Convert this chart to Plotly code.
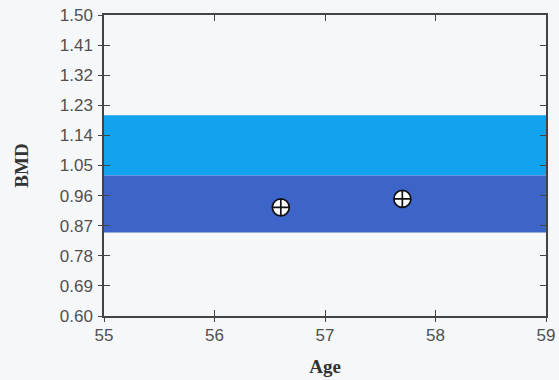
import plotly.graph_objects as go

# Reference bands for bone mineral density (g/cm^2)
band_names = ["upper", "normal"]
band_low = [1.02, 0.85]
band_high = [1.20, 1.02]
band_colors = ["#12a3ef", "#3d64c9"]

# Patient measurements
ages = [56.6, 57.7]
bmd = [0.925, 0.950]

y_ticks = [0.60, 0.69, 0.78, 0.87, 0.96, 1.05, 1.14, 1.23, 1.32, 1.41, 1.50]
x_ticks = [55, 56, 57, 58, 59]
x_min, x_max = 55, 59

fig = go.Figure()

for lo, hi, col in zip(band_low, band_high, band_colors):
    fig.add_trace(go.Scatter(
        x=[x_min, x_max, x_max, x_min, x_min],
        y=[lo, lo, hi, hi, lo],
        fill="toself", fillcolor=col, mode="lines",
        line=dict(width=0, color=col), hoverinfo="skip", showlegend=False,
    ))

fig.add_trace(go.Scatter(
    x=ages, y=bmd, mode="markers", showlegend=False,
    marker=dict(symbol="circle-cross", size=17, color="white",
                line=dict(color="#111111", width=1.7)),
))

# Secondary overlay axes give the ticks that cross the left and bottom lines
fig.add_trace(go.Scatter(x=[x_min], y=[0.6], xaxis="x2", yaxis="y2",
                         mode="markers", marker=dict(opacity=0),
                         showlegend=False, hoverinfo="skip"))

tick_font = dict(family="Liberation Sans, Arial, sans-serif", size=17, color="#505050")
title_font = dict(family="Liberation Serif, Times New Roman, serif", size=19, color="#333333")

fig.update_layout(
    width=559, height=380,
    margin=dict(l=104, r=13, t=15, b=64, autoexpand=False),
    paper_bgcolor="#f6f7f9", plot_bgcolor="#f6f7f9",
    xaxis=dict(range=[x_min, x_max], tickvals=x_ticks, ticks="inside",
               ticklen=6, tickcolor="#444444", tickwidth=1.3,
               showline=True, linecolor="#444444", linewidth=1.5,
               mirror="ticks", showgrid=False, zeroline=False,
               automargin=False, tickfont=tick_font, ticklabelstandoff=3,
               title=dict(text="<b>Age</b>", font=title_font, standoff=16)),
    yaxis=dict(range=[0.60, 1.50], tickvals=y_ticks,
               ticktext=[f"{v:.2f}" for v in y_ticks], ticks="inside",
               ticklen=6, tickcolor="#444444", tickwidth=1.3,
               showline=True, linecolor="#444444", linewidth=1.5,
               mirror="ticks", showgrid=False, zeroline=False,
               automargin=False, tickfont=tick_font, ticklabelstandoff=6,
               title=dict(text="<b>BMD</b>", font=title_font, standoff=26)),
    xaxis2=dict(range=[x_min, x_max], tickvals=x_ticks, ticks="outside",
                ticklen=5, tickcolor="#444444", tickwidth=1.3,
                showticklabels=False, overlaying="x", side="bottom",
                anchor="y2", showgrid=False, zeroline=False, automargin=False),
    yaxis2=dict(range=[0.60, 1.50], tickvals=y_ticks, ticks="outside",
                ticklen=5, tickcolor="#444444", tickwidth=1.3,
                showticklabels=False, overlaying="y", side="left",
                anchor="x2", showgrid=False, zeroline=False, automargin=False),
)

fig.write_html("out.html")
